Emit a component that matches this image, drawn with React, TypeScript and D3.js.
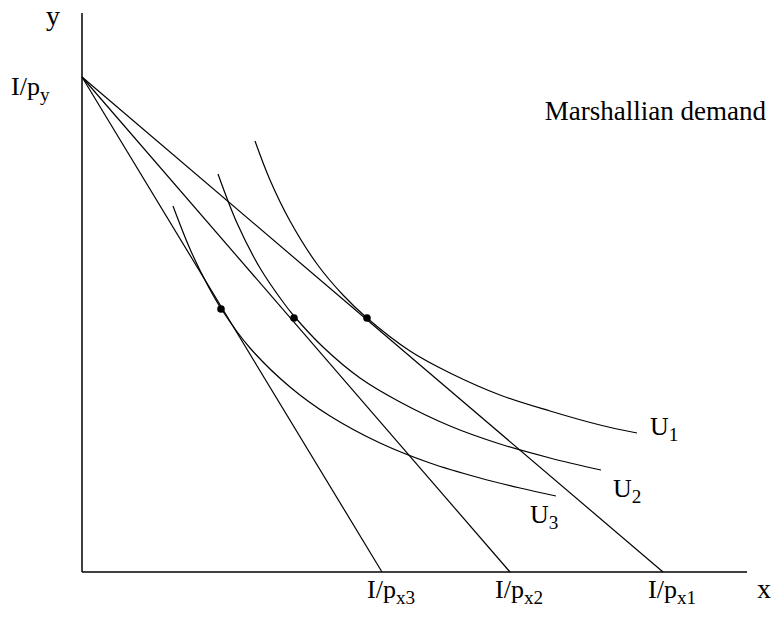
import React, { useEffect, useRef } from 'react';
import * as d3 from 'd3';

// budget lines: common y intercept, three x intercepts (px1 < px2 < px3 prices)
const yIntercept = 495;
const xIntercepts = [581, 428, 300];
const xInterceptLabels = ['x1', 'x2', 'x3'];

// indifference curves
const u1 = [[173, 431], [188, 392], [208, 351], [235, 308], [261, 277], [285, 254], [328, 221], [368, 199], [418, 177], [468, 161], [518, 147], [555, 139]];
const u2 = [[136, 398], [155, 349], [178, 304], [201, 270], [212, 256], [241, 225], [278, 194], [318, 170], [368, 146], [418, 128], [468, 114], [519, 102]];
const u3 = [[91, 366], [108, 323], [125, 288], [140, 262], [168, 224], [208, 185], [248, 156], [298, 129], [348, 109], [398, 94], [438, 84], [474, 76]];
const curves = [u1, u2, u3];
const curveLabels = ['1', '2', '3'];

// optimal bundles (tangency points)
const optima = [[139, 263], [212, 254], [285, 254]];

export default function App() {
    const ref = useRef(null);

    useEffect(() => {
        const svg = d3.select(ref.current);
        svg.selectAll('*').remove();

        const x = d3.scaleLinear().domain([0, 665]).range([82, 747]);
        const y = d3.scaleLinear().domain([0, 559]).range([572, 13]);

        const g = svg.append('g')
            .style('font-family', 'Liberation Serif, Times New Roman, DejaVu Serif, serif')
            .attr('fill', '#000');

        // axes
        g.append('line')
            .attr('x1', x(0)).attr('x2', x(0))
            .attr('y1', y(0)).attr('y2', y(559))
            .attr('stroke', '#000').attr('stroke-width', 1.5);
        g.append('line')
            .attr('x1', x(0)).attr('x2', x(665))
            .attr('y1', y(0)).attr('y2', y(0))
            .attr('stroke', '#000').attr('stroke-width', 1.5);

        // budget lines
        xIntercepts.forEach((xi) => {
            g.append('line')
                .attr('x1', x(0)).attr('y1', y(yIntercept))
                .attr('x2', x(xi)).attr('y2', y(0))
                .attr('stroke', '#000').attr('stroke-width', 1.2);
        });

        // indifference curves
        const line = d3.line()
            .x((d) => x(d[0]))
            .y((d) => y(d[1]))
            .curve(d3.curveCatmullRom);
        curves.forEach((c) => {
            g.append('path')
                .datum(c)
                .attr('fill', 'none')
                .attr('stroke', '#000')
                .attr('stroke-width', 1.2)
                .attr('d', line);
        });

        // tangency points
        g.selectAll('circle.opt')
            .data(optima)
            .enter()
            .append('circle')
            .attr('class', 'opt')
            .attr('cx', (d) => x(d[0]))
            .attr('cy', (d) => y(d[1]))
            .attr('r', 3.8)
            .attr('fill', '#000');

        const fs = 26;

        // axis labels
        g.append('text').attr('x', 46).attr('y', 25).attr('font-size', 28).text('y');
        g.append('text').attr('x', 757).attr('y', 598).attr('font-size', 28).text('x');

        const sub = (sel, main, s) => {
            sel.append('tspan').text(main);
            sel.append('tspan')
                .attr('font-size', fs * 0.74)
                .attr('dy', 6)
                .text(s);
        };

        const py = g.append('text').attr('x', 11).attr('y', 95).attr('font-size', fs);
        sub(py, 'I/p', 'y');

        xIntercepts.forEach((xi, i) => {
            const t = g.append('text')
                .attr('x', x(xi) - 15)
                .attr('y', 598)
                .attr('font-size', fs);
            sub(t, 'I/p', xInterceptLabels[i]);
        });

        // curve labels
        const labelPos = [[650, 435], [613, 497], [530, 523]];
        curveLabels.forEach((l, i) => {
            const t = g.append('text')
                .attr('x', labelPos[i][0])
                .attr('y', labelPos[i][1])
                .attr('font-size', fs);
            sub(t, 'U', l);
        });

        g.append('text')
            .attr('x', 766)
            .attr('y', 120)
            .attr('text-anchor', 'end')
            .attr('font-size', 27)
            .text('Marshallian demand');
    }, []);

    return (
        <svg ref={ref} width={775} height={617} style={{ position: 'absolute', left: 0, top: 0, background: '#fff' }} />
    );
}
